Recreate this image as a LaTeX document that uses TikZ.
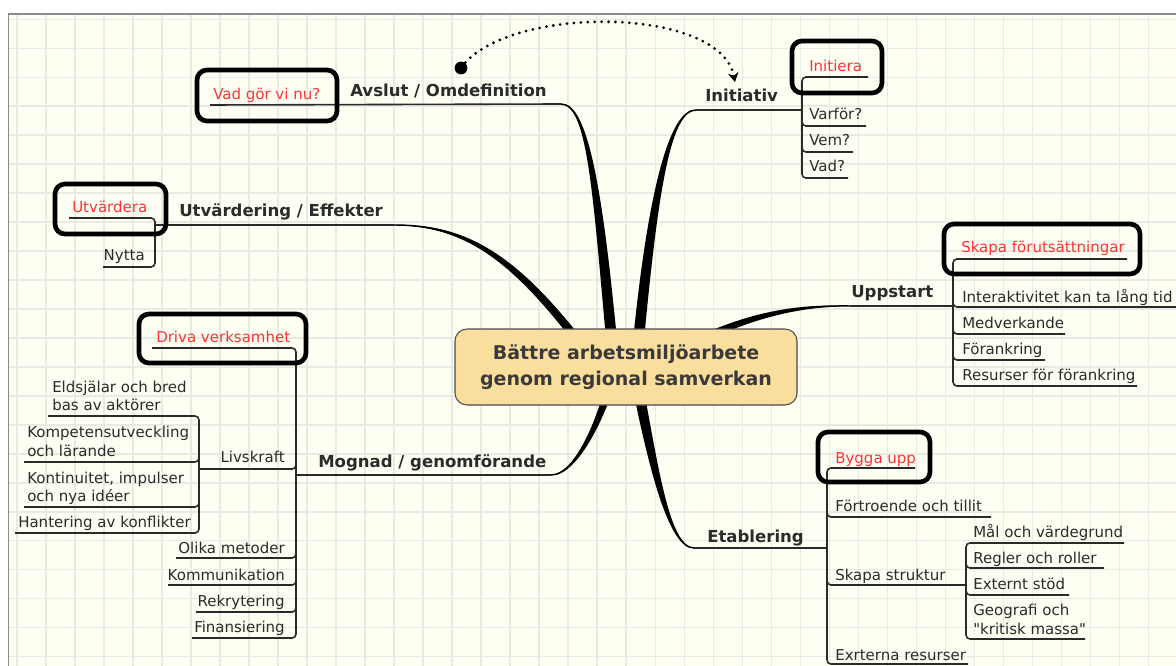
\documentclass[tikz,border=0pt]{standalone}
\usepackage{fontspec}
\setmainfont{DejaVu Sans}[Ligatures=TeXOff]
\usetikzlibrary{calc,arrows.meta}
\definecolor{bgc}{HTML}{FEFEF2}
\definecolor{gridc}{HTML}{E6ECE1}
\definecolor{framec}{HTML}{8A8A8A}
\definecolor{txtc}{HTML}{2B2B2B}
\definecolor{linec}{HTML}{2A2A2A}
\definecolor{redc}{RGB}{255,51,51}
\definecolor{rootfill}{HTML}{F9DE9E}
\definecolor{roottxt}{HTML}{3A3A3A}
\definecolor{branchc}{HTML}{000000}
\tikzset{
  conn/.style={draw=linec, line width=1.2pt, rounded corners=3pt},
  itm/.style={inner sep=0pt, font=\fontsize{11.25pt}{13.5pt}\selectfont, text=txtc},
  redlbl/.style={itm, text=redc},
  brlbl/.style={inner sep=0pt, font=\bfseries\fontsize{12.4pt}{14pt}\selectfont, text=txtc},
  topicbox/.style={draw=black, line width=3.5pt, rounded corners=7.5pt},
  rootbox/.style={draw=black!70, line width=0.8pt, fill=rootfill, rounded corners=9pt,
     minimum width=256.5pt, minimum height=57pt, align=center, text=roottxt,
     font=\bfseries\fontsize{14.25pt}{19.5pt}\selectfont},
  dotarrow/.style={draw=black, line width=2.3pt, line cap=round, dash pattern=on 0pt off 5.2pt,
     -{Stealth[length=7pt,width=8pt]}},
}
% tapered branch: start, control 1, control 2, end, offset at control 1, offset at control 2 / end
\newcommand\taperbranch[6]{%
  \fill[branchc] (#1) .. controls ($(#2)+(#5)$) and ($(#3)+(#6)$) .. ($(#4)+(#6)$)
     -- ($(#4)-(#6)$) .. controls ($(#3)-(#6)$) and ($(#2)-(#5)$) .. (#1) -- cycle;
  \draw[branchc, line width=1.1pt] (#1) .. controls (#2) and (#3) .. (#4);}
\begin{document}
\begin{tikzpicture}[x=0.75pt,y=-0.75pt]
\useasboundingbox (0,0) rectangle (1176,666);
\fill[white] (0,0) rectangle (1176,666);
\fill[bgc] (8.4,14) rectangle (1176,666);
\foreach \i in {0,...,40} \draw[gridc, line width=1.1pt] ({16.8+29.02*\i},14) -- ({16.8+29.02*\i},666);
\foreach \i in {0,...,22} \draw[gridc, line width=1.1pt] (8.4,{19.3+28.97*\i}) -- (1176,{19.3+28.97*\i});
\draw[framec, line width=1.2pt] (8.4,666) -- (8.4,14) -- (1176,14);

% branch start and end coordinates
\coordinate (avS) at (561,104);
\coordinate (iniS) at (696,110);
\coordinate (utvS) at (394,225);
\coordinate (uppS) at (850,306);
\coordinate (etaS) at (694,548);
\coordinate (mogS) at (551,475);
\coordinate (eAv) at (614,367);
\coordinate (eIni) at (636,367);
\coordinate (eUtv) at (600,370);
\coordinate (eUpp) at (660,360);
\coordinate (eEta) at (634,367);
\coordinate (eMog) at (615,367);

\taperbranch{avS}{588,104}{598,190}{eAv}{0,-2.5}{5.5,0}
\taperbranch{iniS}{670,110}{652,190}{eIni}{0,-2.5}{-5.5,0}
\taperbranch{utvS}{470,225}{520,260}{eUtv}{0,-2}{3.5,-2.5}
\taperbranch{uppS}{790,305}{735,318}{eUpp}{0,-2}{-2,-3.5}
\taperbranch{etaS}{668,548}{652,460}{eEta}{0,2.5}{-5.5,0}
\taperbranch{mogS}{578,475}{605,410}{eMog}{0,2.5}{4.5,0}

\node[rootbox] (root) at (626,367) {Bättre arbetsmiljöarbete\\genom regional samverkan};

% Avslut / Omdefinition
\draw[conn] (210,105) -- (avS);
% Utvärdering / Effekter
\draw[conn] (69,218) -| (155,267) -- (103,267);
\draw[conn] (155,225) -- (utvS);
% Initiativ
\draw[conn] (iniS) -- (802,110);
\draw[conn] (868,77) -| (802,178) -- (848,178);
\draw[conn] (802,115) |- (866,126);
\draw[conn] (802,141) |- (853,152);
% Uppstart
\draw[conn] (uppS) -- (953,306);
\draw[conn] (1127,259) -| (953,386) -- (1137,386);
\draw[conn] (953,296) |- (1176,307);
\draw[conn] (953,322) |- (1065,334);
\draw[conn] (953,348) |- (1045,360);
% Etablering
\draw[conn] (etaS) -- (827,548);
\draw[conn] (915,468) -| (827,664) -- (968,664);
\draw[conn] (827,505) |- (991,517);
\draw[conn] (827,575) |- (966,585);
\draw[conn] (1124,543) -| (966,639) -- (1085,639);
\draw[conn] (966,558) |- (1104,568);
\draw[conn] (966,583) |- (1069,595);
% Mognad / genomförande
\draw[conn] (296,475) -- (mogS);
\draw[conn] (152,348) -| (296,638) -- (192,638);
\draw[conn] (296,459) |- (199,469);
\draw[conn] (296,548) |- (176,558);
\draw[conn] (296,575) |- (168,585);
\draw[conn] (296,602) |- (196,612);
\draw[conn] (48,416) -| (199,533) -- (15,533);
\draw[conn] (199,452) |- (24,462);
\draw[conn] (199,497) |- (24,507);

% topic boxes
\draw[topicbox] (197,70) rectangle (337,121);
\draw[topicbox] (55,184) rectangle (166,234);
\draw[topicbox] (792,41) rectangle (882,93);
\draw[topicbox] (944,224) rectangle (1140,274);
\draw[topicbox] (139,314) rectangle (306,363);
\draw[topicbox] (818,432) rectangle (930,482);

% red labels
\node[redlbl, anchor=base west] (vad) at (213,100) {Vad gör vi nu?};
\node[redlbl, anchor=base west] (utv) at (72,213) {Utvärdera};
\node[redlbl, anchor=base west] (ini) at (809,72) {Initiera};
\node[redlbl, anchor=base west] (skapa) at (961,253) {Skapa förutsättningar};
\node[redlbl, anchor=base west] (driva) at (156,342) {Driva verksamhet};
\node[redlbl, anchor=base west] (bygga) at (835,463) {Bygga upp};

% branch labels
\node[brlbl, anchor=base west] (avslut) at (350,97) {Avslut / Omdefinition};
\node[brlbl, anchor=base west] (utvard) at (179,217) {Utvärdering / Effekter};
\node[brlbl, anchor=base west] (mognad) at (318,467) {Mognad / genomförande};
\node[brlbl, anchor=base west] (initiativ) at (705,102) {Initiativ};
\node[brlbl, anchor=base west] (uppstart) at (851,297) {Uppstart};
\node[brlbl, anchor=base west] (etabl) at (707,542) {Etablering};

% items
\node[itm, anchor=base west] (varfor) at (809,120) {Varför?};
\node[itm, anchor=base west] (vem) at (809,146) {Vem?};
\node[itm, anchor=base west] (vadq) at (809,172) {Vad?};
\node[itm, anchor=base west] (inter) at (962,302) {Interaktivitet kan ta lång tid};
\node[itm, anchor=base west] (medv) at (962,328) {Medverkande};
\node[itm, anchor=base west] (foran) at (962,354) {Förankring};
\node[itm, anchor=base west] (resurs) at (962,380) {Resurser för förankring};
\node[itm, anchor=base west] (fortro) at (835,511) {Förtroende och tillit};
\node[itm, anchor=base west] (struktur) at (835,580) {Skapa struktur};
\node[itm, anchor=base west] (mal) at (973,537) {Mål och värdegrund};
\node[itm, anchor=base west] (regler) at (973,563) {Regler och roller};
\node[itm, anchor=base west] (externt) at (973,589) {Externt stöd};
\node[itm, anchor=base west] (geo1) at (973,615) {Geografi och};
\node[itm, anchor=base west] (geo2) at (973,634) {"kritisk massa"};
\node[itm, anchor=base west] (exrt) at (835,660) {Exrterna resurser};
\node[itm, anchor=base east] (nytta) at (145,261) {Nytta};
\node[itm, anchor=base east] (livs) at (285,462) {Livskraft};
\node[itm, anchor=base east] (olika) at (285,553) {Olika metoder};
\node[itm, anchor=base east] (komm) at (285,580) {Kommunikation};
\node[itm, anchor=base east] (rekr) at (285,606) {Rekrytering};
\node[itm, anchor=base east] (fin) at (285,632) {Finansiering};
\node[itm, anchor=base west] (eld1) at (52,392) {Eldsjälar och bred};
\node[itm, anchor=base west] (eld2) at (52,410) {bas av aktörer};
\node[itm, anchor=base west] (komp1) at (27,437) {Kompetensutveckling};
\node[itm, anchor=base west] (komp2) at (27,456) {och lärande};
\node[itm, anchor=base west] (kont1) at (27,483) {Kontinuitet, impulser};
\node[itm, anchor=base west] (kont2) at (27,501) {och nya idéer};
\node[itm, anchor=base west] (hant) at (18,527) {Hantering av konflikter};

% dotted relation arrow
\coordinate (dotS) at (461,68);
\coordinate (dotE) at (735,82);
\fill[black] (dotS) circle[radius=4.8pt];
\draw[dotarrow] (dotS) .. controls (505,5) and (720,5) .. (dotE);
\end{tikzpicture}
\end{document}
